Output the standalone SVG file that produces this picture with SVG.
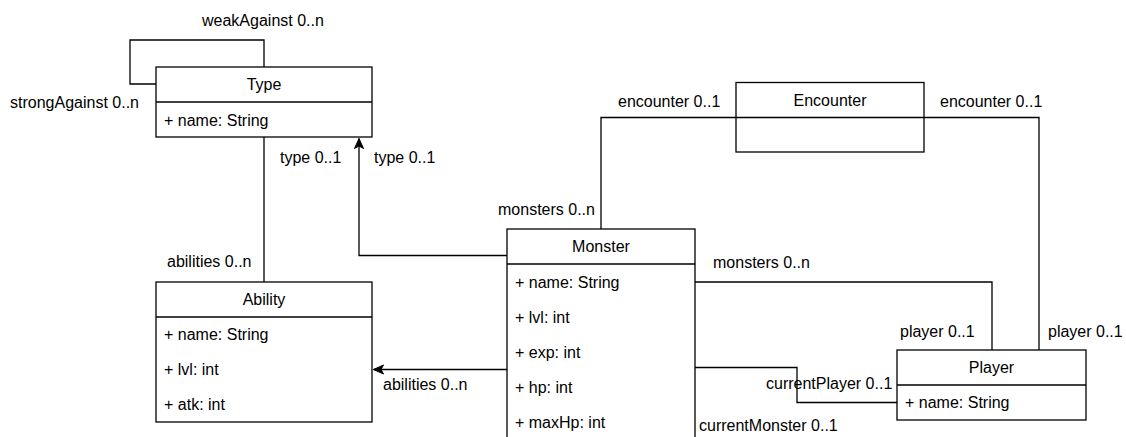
<svg xmlns="http://www.w3.org/2000/svg" width="1126" height="437" viewBox="0 0 1126 437">
  <style>
    .box { fill: #ffffff; stroke: #000000; stroke-width: 1.3; }
    .div { stroke: #000000; stroke-width: 1.3; fill: none; }
    .edge { fill: none; stroke: #000000; stroke-width: 1.3; }
    text { font-family: "Liberation Sans", Arial, Helvetica, sans-serif; font-size: 16px; fill: #000000; }
    .title { text-anchor: middle; }
  </style>
  <defs>
    <marker id="arrow" markerUnits="userSpaceOnUse" markerWidth="12" markerHeight="12" viewBox="0 0 12 12" refX="11" refY="6" orient="auto">
      <path d="M1,1.5 L11,6 L1,10.5 L3.5,6 Z" fill="#000000" stroke="#000000" stroke-width="1"/>
    </marker>
  </defs>
  <rect width="1126" height="437" fill="#ffffff"/>

  <!-- associations -->
  <g id="connectors">
    <path class="edge" d="M156,84 H130 V40 H264 V67"/>
    <path class="edge" d="M264,137 V282"/>
    <path class="edge" d="M507,255.5 H359 V138.5" marker-end="url(#arrow)"/>
    <path class="edge" d="M507,369.5 H373.5" marker-end="url(#arrow)"/>
    <path class="edge" d="M601,229 V117.5 H736"/>
    <path class="edge" d="M924,117.5 H1039 V350"/>
    <path class="edge" d="M695,282 H992 V350"/>
    <path class="edge" d="M695,367.5 H797 V402.5 H897"/>
  </g>

  <!-- role labels -->
  <g id="labels">
    <text x="202" y="26">weakAgainst 0..n</text>
    <text x="10" y="108">strongAgainst 0..n</text>
    <text x="280" y="163">type 0..1</text>
    <text x="374" y="163">type 0..1</text>
    <text x="167" y="267">abilities 0..n</text>
    <text x="383" y="390">abilities 0..n</text>
    <text x="498" y="215">monsters 0..n</text>
    <text x="618" y="107">encounter 0..1</text>
    <text x="940" y="107">encounter 0..1</text>
    <text x="713" y="268">monsters 0..n</text>
    <text x="900" y="337">player 0..1</text>
    <text x="1048" y="337">player 0..1</text>
    <text x="766" y="389">currentPlayer 0..1</text>
    <text x="699" y="431">currentMonster 0..1</text>
  </g>

  <g id="type">
    <rect class="box" x="156" y="67" width="216" height="70"/>
    <line class="div" x1="156" y1="102" x2="372" y2="102"/>
    <text class="title" x="264" y="90">Type</text>
    <text x="164" y="126">+ name: String</text>
  </g>

  <g id="ability">
    <rect class="box" x="156" y="282" width="216" height="140"/>
    <line class="div" x1="156" y1="317" x2="372" y2="317"/>
    <text class="title" x="264" y="305">Ability</text>
    <text x="164" y="340">+ name: String</text>
    <text x="164" y="375">+ lvl: int</text>
    <text x="164" y="410">+ atk: int</text>
  </g>

  <g id="monster">
    <rect class="box" x="507" y="229" width="188" height="240"/>
    <line class="div" x1="507" y1="264" x2="695" y2="264"/>
    <text class="title" x="601" y="252">Monster</text>
    <text x="515" y="288">+ name: String</text>
    <text x="515" y="323">+ lvl: int</text>
    <text x="515" y="358">+ exp: int</text>
    <text x="515" y="393">+ hp: int</text>
    <text x="515" y="428">+ maxHp: int</text>
  </g>

  <g id="encounter">
    <rect class="box" x="736" y="82.5" width="188" height="69.5"/>
    <line class="div" x1="736" y1="117.5" x2="924" y2="117.5"/>
    <text class="title" x="830" y="106">Encounter</text>
  </g>

  <g id="player">
    <rect class="box" x="897" y="350" width="189" height="70"/>
    <line class="div" x1="897" y1="385" x2="1086" y2="385"/>
    <text class="title" x="991.5" y="373">Player</text>
    <text x="905" y="408">+ name: String</text>
  </g>
</svg>
